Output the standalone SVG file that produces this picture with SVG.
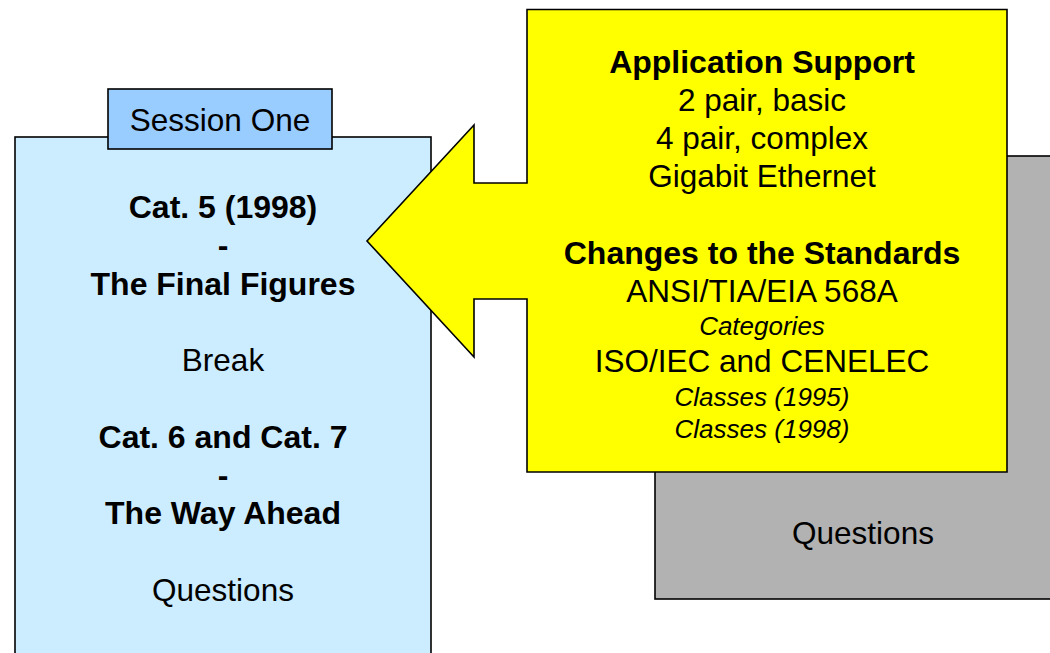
<svg xmlns="http://www.w3.org/2000/svg" width="1050" height="653" viewBox="0 0 1050 653">
  <style>
    .box { stroke: #000; stroke-width: 1.6; }
    text { font-family: "Liberation Sans", Arial, sans-serif; fill: #000; text-anchor: middle; }
    .reg { font-size: 31.5px; }
    .bold { font-size: 32px; font-weight: bold; }
    .ital { font-size: 26px; font-style: italic; }
  </style>
  <rect width="1050" height="653" fill="#fff"/>

  <!-- Back panel (grey) -->
  <g id="panel-questions">
    <rect class="box" x="655" y="156" width="410" height="443" fill="#B2B2B2"/>
    <text class="reg" x="863" y="544">Questions</text>
  </g>

  <!-- Session One agenda panel -->
  <g id="session-one">
    <rect class="box" x="15" y="137" width="416" height="530" fill="#CCECFF"/>
    <text class="bold" x="223" y="218">Cat. 5 (1998)</text>
    <text class="bold" x="223" y="256">-</text>
    <text class="bold" x="223" y="295">The Final Figures</text>
    <text class="reg" x="223" y="371">Break</text>
    <text class="bold" x="223" y="448">Cat. 6 and Cat. 7</text>
    <text class="bold" x="223" y="486">-</text>
    <text class="bold" x="223" y="524">The Way Ahead</text>
    <text class="reg" x="223" y="601">Questions</text>
  </g>

  <!-- Tab label -->
  <g id="session-tab">
    <rect class="box" x="108" y="89" width="224" height="60" fill="#99CCFF"/>
    <text class="reg" x="220" y="131">Session One</text>
  </g>

  <!-- Yellow callout pointing left -->
  <g id="callout">
    <path class="box" fill="#FFFF00" d="M527,9.5 H1007 V472 H527 V299 H474 V357 L367,241 L474,125 V183 H527 Z"/>
    <text class="bold" x="762" y="73">Application Support</text>
    <text class="reg" x="762" y="111">2 pair, basic</text>
    <text class="reg" x="762" y="149">4 pair, complex</text>
    <text class="reg" x="762" y="187">Gigabit Ethernet</text>
    <text class="bold" x="762" y="264">Changes to the Standards</text>
    <text class="reg" x="762" y="302">ANSI/TIA/EIA 568A</text>
    <text class="ital" x="762" y="335">Categories</text>
    <text class="reg" x="762" y="372">ISO/IEC and CENELEC</text>
    <text class="ital" x="762" y="406">Classes (1995)</text>
    <text class="ital" x="762" y="438">Classes (1998)</text>
  </g>

  <g id="connectors"></g>
</svg>
